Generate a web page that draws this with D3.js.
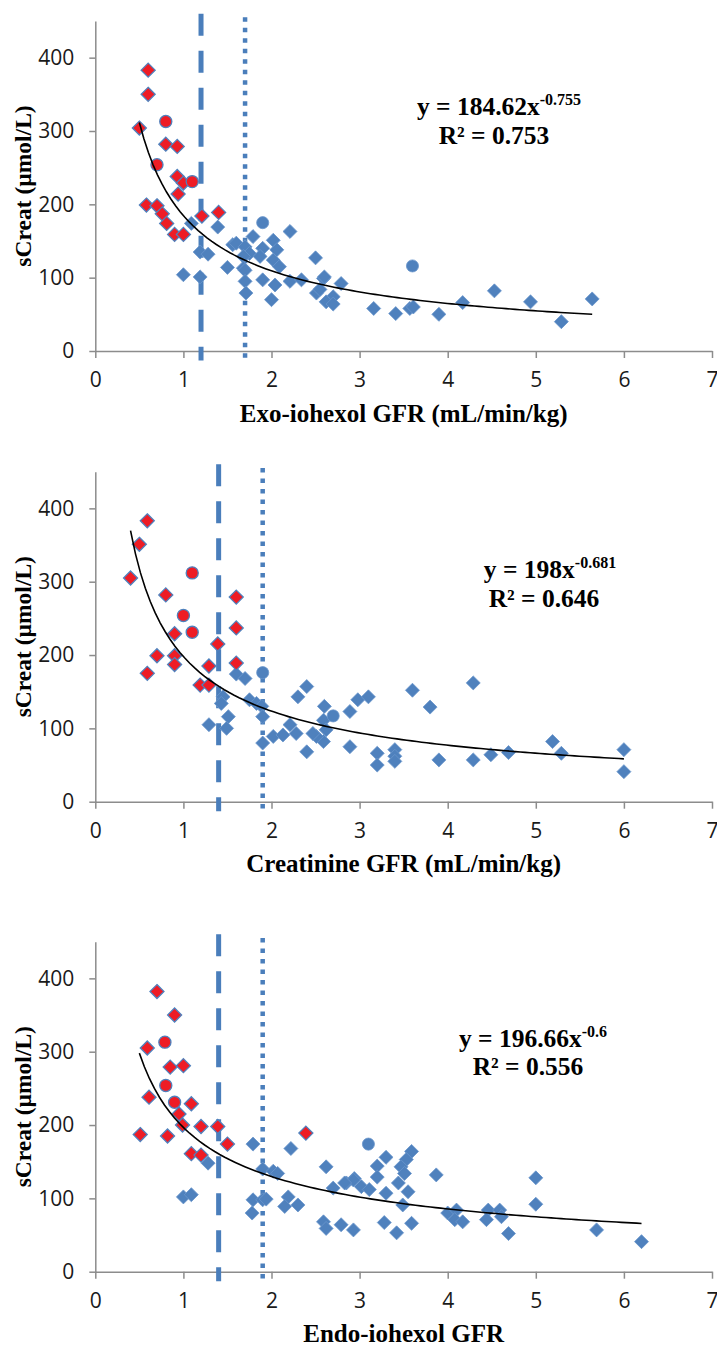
<!DOCTYPE html>
<html>
<head>
<meta charset="utf-8">
<script src="https://cdn.jsdelivr.net/npm/d3@7"></script>
<style>
  body { margin: 0; background: #fff; }
  .axis path, .axis line { stroke: #8c8c8c; stroke-width: 1.5; }
  .axis .tick text { font-family: "Open Sans", sans-serif; font-size: 21px; fill: #1a1a1a; }
  .title { font-family: "Liberation Serif", "Times New Roman", serif; font-weight: bold; font-size: 25px; fill: #000; }
  .ytitle { font-size: 23.5px; }
  .eq { font-family: "Liberation Serif", "Times New Roman", serif; font-weight: bold; font-size: 25.5px; fill: #000; }
</style>
</head>
<body>
<svg id="chart" width="717" height="1347"></svg>
<script>
// ---- data: [GFR, sCreat] ----
// panel 1: exo-iohexol GFR
const p1RedDiamonds = [[0.6,383],[0.6,350],[0.5,304],[0.8,282],[0.93,279],[0.93,238],[1.0,229],[0.94,214],
  [0.58,199],[0.7,198],[0.76,187],[0.81,174],[0.9,159],[1.0,159],[1.21,184],[1.4,189]];
const p1RedCircles = [[0.8,313],[0.7,254],[1.1,231]];
const p1BlueDiamonds = [[1.09,174],[1.39,169],[1.19,135],[1.28,132],[1.0,104],[1.19,101],[1.5,114],[1.56,145],
  [1.6,147],[1.7,142],[1.79,156],[1.9,140],[2.02,151],[2.06,138],[1.75,133],[1.87,129],[1.68,129],[2.02,124],
  [2.09,115],[1.68,113],[1.7,110],[1.7,95],[1.71,79],[1.9,97],[2.04,90],[2.0,70],[2.21,163],[2.21,95],[2.34,97],
  [2.5,127],[2.59,99],[2.6,101],[2.7,74],[2.51,79],[2.62,67],[2.7,64],[2.79,92],[2.55,84],[3.16,58],[3.41,51],
  [3.57,58],[3.61,60],[3.9,50],[4.17,66],[4.53,82],[4.94,67],[5.29,40],[5.64,71]];
const p1BlueCircles = [[1.9,175],[3.6,116]];

// panel 2: creatinine GFR
const p2RedDiamonds = [[0.59,383],[0.5,351],[0.4,305],[0.8,282],[1.6,279],[1.6,237],[0.9,229],[1.39,215],
  [0.7,199],[0.9,199],[0.9,187],[0.59,175],[1.29,185],[1.6,189],[1.19,159],[1.29,159]];
const p2RedCircles = [[1.1,312],[1.0,254],[1.1,231]];
const p2BlueDiamonds = [[1.6,174],[1.7,168],[1.45,143],[1.43,134],[1.51,116],[1.49,100],[1.29,105],[1.75,139],
  [1.83,134],[1.89,130],[1.9,116],[1.9,80],[2.02,89],[2.13,91],[2.21,105],[2.28,93],[2.3,143],[2.4,157],[2.4,68],
  [2.59,111],[2.62,98],[2.59,82],[2.51,89],[2.6,130],[2.47,93],[2.89,123],[2.89,75],[2.98,139],[3.1,143],[3.6,152],
  [3.8,129],[4.29,162],[3.2,66],[3.2,50],[3.4,71],[3.4,62],[3.4,55],[3.9,57],[4.29,57],[4.49,64],[4.69,67],
  [5.19,82],[5.29,66],[6.0,71],[6.0,41]];
const p2BlueCircles = [[1.9,176],[2.7,117]];

// panel 3: endo-iohexol GFR
const p3RedDiamonds = [[0.7,382],[0.9,350],[0.59,305],[0.85,279],[1.0,281],[0.61,238],[1.09,229],[0.95,215],
  [0.99,200],[1.2,198],[1.39,198],[0.51,187],[0.82,185],[2.39,189],[1.5,174],[1.09,161],[1.2,159]];
const p3RedCircles = [[0.79,313],[0.8,254],[0.9,231]];
const p3BlueDiamonds = [[1.28,148],[1.0,102],[1.09,105],[1.79,174],[2.22,168],[1.9,140],[2.02,137],[2.07,134],
  [1.79,98],[1.78,80],[1.9,98],[1.94,99],[2.19,102],[2.15,89],[2.3,91],[2.62,143],[2.59,68],[2.62,59],[2.79,64],
  [2.93,57],[2.7,114],[2.85,121],[2.94,127],[2.93,125],[3.02,116],[3.11,112],[2.83,121],[3.3,156],[3.2,144],
  [3.2,129],[3.59,164],[3.53,153],[3.47,143],[3.44,121],[3.51,134],[3.55,109],[3.49,91],[3.3,107],[3.28,67],
  [3.42,53],[3.59,66],[3.87,132],[4.0,80],[4.1,84],[4.08,71],[4.17,68],[4.46,84],[4.44,71],[4.59,84],[4.61,75],
  [4.69,52],[5.0,128],[5.0,92],[5.69,57],[6.2,41]];
const p3BlueCircles = [[3.1,174]];

// axes, titles, fits and cut-offs
const xTicks = [0,1,2,3,4,5,6,7];
const yTicks = [0,100,200,300,400];
const xTitles = ["Exo-iohexol GFR (mL/min/kg)", "Creatinine GFR (mL/min/kg)", "Endo-iohexol GFR"];
const yTitle = "sCreat (µmol/L)";
const fitCoef = [184.62, 198, 196.66];
const fitExp = [-0.755, -0.681, -0.6];
const fitFrom = [0.5, 0.4, 0.5];
const fitTo = [5.64, 6.0, 6.2];
const eqMain = ["y = 184.62x", "y = 198x", "y = 196.66x"];
const eqSup = ["-0.755", "-0.681", "-0.6"];
const eqR2 = ["R² = 0.753", "R² = 0.646", "R² = 0.556"];
const cutDashed = [1.2, 1.4, 1.4];
const cutDotted = [1.7, 1.9, 1.9];

// layout
const baseY = [351, 801.7, 1271.7];
const plotH = 330;
const eqPos = [[499, 115, 494, 144], [550, 578, 544, 607], [533, 1047, 528, 1075]];

const BLUE = "#4f81bd", RED = "#ee1c25";

const svg = d3.select("#chart");
const x = d3.scaleLinear().domain([0, 7]).range([95.3, 712]);

const panels = [
  {red: p1RedDiamonds, redC: p1RedCircles, blue: p1BlueDiamonds, blueC: p1BlueCircles},
  {red: p2RedDiamonds, redC: p2RedCircles, blue: p2BlueDiamonds, blueC: p2BlueCircles},
  {red: p3RedDiamonds, redC: p3RedCircles, blue: p3BlueDiamonds, blueC: p3BlueCircles}
];

const diamond = d3.symbol().type(d3.symbolDiamond2).size(125);
const circle = d3.symbol().type(d3.symbolCircle).size(115);

panels.forEach(function (p, i) {
  let y = d3.scaleLinear().domain([0, 450]).range([baseY[i], baseY[i] - plotH]);
  let g = svg.append("g");

  // axes
  g.append("g").attr("class", "axis")
    .attr("transform", "translate(0," + baseY[i] + ")")
    .call(d3.axisBottom(x).tickValues(xTicks).tickSize(7).tickSizeOuter(0).tickPadding(14).tickFormat(d3.format("d")));
  g.append("g").attr("class", "axis")
    .attr("transform", "translate(" + x(0) + ",0)")
    .call(d3.axisLeft(y).tickValues(yTicks).tickSize(6).tickSizeOuter(0).tickPadding(15).tickFormat(d3.format("d")));

  // cut-off lines
  g.append("line")
    .attr("x1", x(cutDashed[i])).attr("x2", x(cutDashed[i]))
    .attr("y1", y(460)).attr("y2", y(-13))
    .attr("stroke", "#4a7ebb").attr("stroke-width", 5).attr("stroke-dasharray", "22,15");
  g.append("line")
    .attr("x1", x(cutDotted[i])).attr("x2", x(cutDotted[i]))
    .attr("y1", y(455)).attr("y2", y(-13))
    .attr("stroke", "#4a7ebb").attr("stroke-width", 4.5).attr("stroke-dasharray", "4.5,6");

  // markers
  g.selectAll(".bd").data(p.blue).enter().append("path")
    .attr("d", diamond)
    .attr("transform", d => "translate(" + x(d[0]) + "," + y(d[1]) + ")")
    .attr("fill", BLUE).attr("stroke", "#6a95cc").attr("stroke-width", 0.8);
  g.selectAll(".bc").data(p.blueC).enter().append("path")
    .attr("d", circle)
    .attr("transform", d => "translate(" + x(d[0]) + "," + y(d[1]) + ")")
    .attr("fill", BLUE).attr("stroke", "#6a95cc").attr("stroke-width", 0.8);
  g.selectAll(".rd").data(p.red).enter().append("path")
    .attr("d", diamond)
    .attr("transform", d => "translate(" + x(d[0]) + "," + y(d[1]) + ")")
    .attr("fill", RED).attr("stroke", BLUE).attr("stroke-width", 1.3);
  g.selectAll(".rc").data(p.redC).enter().append("path")
    .attr("d", circle)
    .attr("transform", d => "translate(" + x(d[0]) + "," + y(d[1]) + ")")
    .attr("fill", RED).attr("stroke", BLUE).attr("stroke-width", 1.3);

  // power trend line
  let xs = d3.range(0, 101).map(k => fitFrom[i] + (fitTo[i] - fitFrom[i]) * k / 100);
  let line = d3.line().x(d => x(d)).y(d => y(fitCoef[i] * Math.pow(d, fitExp[i])));
  g.append("path").datum(xs)
    .attr("d", line).attr("fill", "none").attr("stroke", "#000").attr("stroke-width", 1.6);

  // equation
  let e = eqPos[i];
  let t1 = g.append("text").attr("class", "eq").attr("x", e[0]).attr("y", e[1]).attr("text-anchor", "middle");
  t1.append("tspan").text(eqMain[i]);
  t1.append("tspan").attr("dy", -10).attr("font-size", 16).text(eqSup[i]);
  g.append("text").attr("class", "eq").attr("x", e[2]).attr("y", e[3]).attr("text-anchor", "middle").text(eqR2[i]);

  // titles
  g.append("text").attr("class", "title")
    .attr("x", (x(0) + x(7)) / 2).attr("y", baseY[i] + 70.5)
    .attr("text-anchor", "middle").text(xTitles[i]);
  g.append("text").attr("class", "title ytitle")
    .attr("transform", "translate(31," + (baseY[i] - plotH / 2) + ") rotate(-90)")
    .attr("text-anchor", "middle").text(yTitle);
});
</script>
</body>
</html>
